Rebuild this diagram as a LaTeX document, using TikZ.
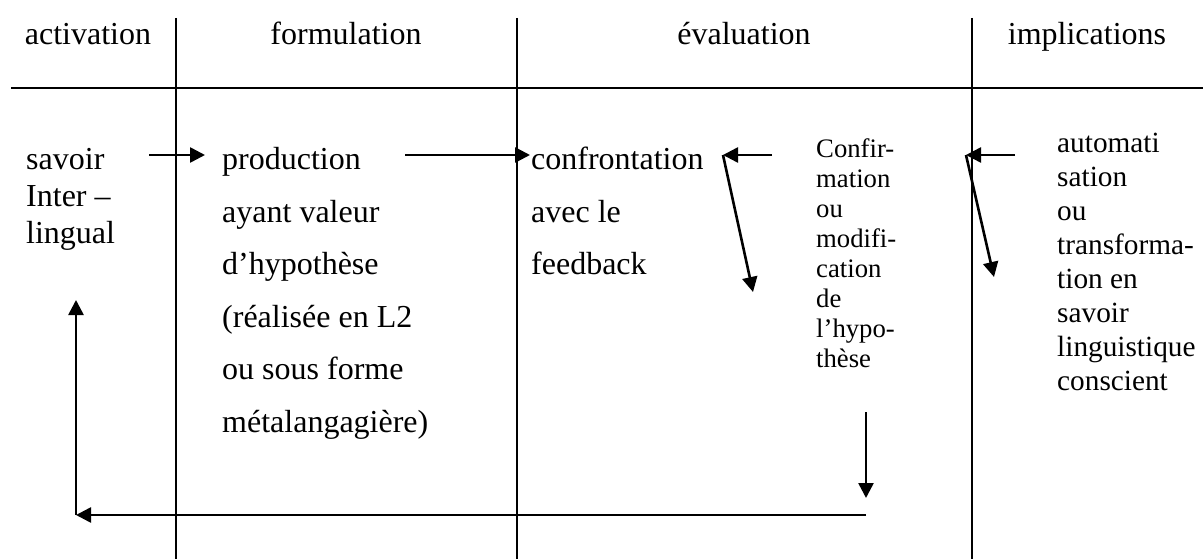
\documentclass[tikz,border=0pt]{standalone}
\usepackage{fontspec}
\setmainfont{Liberation Serif}
\usetikzlibrary{arrows.meta}
\newcommand{\stack}[2]{\vtop{\baselineskip=#1pt\lineskiplimit=-100pt #2}}
\begin{document}
\begin{tikzpicture}[x=1pt,y=-1pt,
  rule/.style={line width=2.2pt},
  flow/.style={line width=2.6pt,-{Triangle[length=15pt,width=15pt]}},
  head/.style={anchor=base,inner sep=0pt,font=\fontsize{32}{37}\selectfont},
  body/.style={anchor=base west,inner sep=0pt,font=\fontsize{32}{37}\selectfont},
  small/.style={anchor=base west,inner sep=0pt,font=\fontsize{26.7}{30.7}\selectfont},
  mid/.style={anchor=base west,inner sep=0pt,font=\fontsize{29.3}{33.7}\selectfont}]
\useasboundingbox (0,0) rectangle (1203,559);
% table rules
\draw[rule] (11,88) -- (1203,88);
\draw[rule] (176,18) -- (176,559);
\draw[rule] (517,18) -- (517,559);
\draw[rule] (972,18) -- (972,559);
% headers
\node[head] (h1) at (88,45) {activation};
\node[head] (h2) at (346,45) {formulation};
\node[head] (h3) at (744,45) {évaluation};
\node[head] (h4) at (1087,45) {implications};
% body texts
\node[body] (savoir) at (26,170) {\stack{36.6}{\hbox{savoir}\hbox{Inter –}\hbox{lingual}}};
\node[body] (prod) at (222,170) {\stack{52.5}{\hbox{production}\hbox{ayant valeur}\hbox{d’hypothèse}\hbox{(réalisée en L2}\hbox{ou sous forme}\hbox{métalangagière)}}};
\node[body] (conf) at (531,170) {\stack{52.5}{\hbox{confrontation}\hbox{avec le}\hbox{feedback}}};
\node[small] (confir) at (816,158) {\stack{30}{\hbox{Confir-}\hbox{mation}\hbox{ou}\hbox{modifi-}\hbox{cation}\hbox{de}\hbox{l’hypo-}\hbox{thèse}}};
\node[mid] (auto) at (1057,153) {\stack{34}{\hbox{automati}\hbox{sation}\hbox{ou}\hbox{transforma-}\hbox{tion en}\hbox{savoir}\hbox{linguistique}\hbox{conscient}}};
% connector endpoints
\coordinate (a1s) at (149,155);
\coordinate (a1e) at (205,155);
\coordinate (a2s) at (405,155);
\coordinate (a2e) at (530,155);
\coordinate (a3s) at (772,155);
\coordinate (a3e) at (723,155);
\coordinate (a3d) at (753,292);
\coordinate (a4s) at (1015,155);
\coordinate (a4e) at (966,155);
\coordinate (a4d) at (994,277);
\coordinate (a5s) at (866,412);
\coordinate (a5e) at (866,498);
\coordinate (a6s) at (866,515);
\coordinate (a6e) at (76,515);
\coordinate (a7e) at (76,300);
% connectors
\draw[flow] (a1s) -- (a1e);
\draw[flow] (a2s) -- (a2e);
\draw[flow] (a3s) -- (a3e);
\draw[flow] (a3e) -- (a3d);
\draw[flow] (a4s) -- (a4e);
\draw[flow] (a4e) -- (a4d);
\draw[flow] (a5s) -- (a5e);
\draw[flow] (a6s) -- (a6e);
\draw[flow] (a6e) -- (a7e);
\end{tikzpicture}
\end{document}
